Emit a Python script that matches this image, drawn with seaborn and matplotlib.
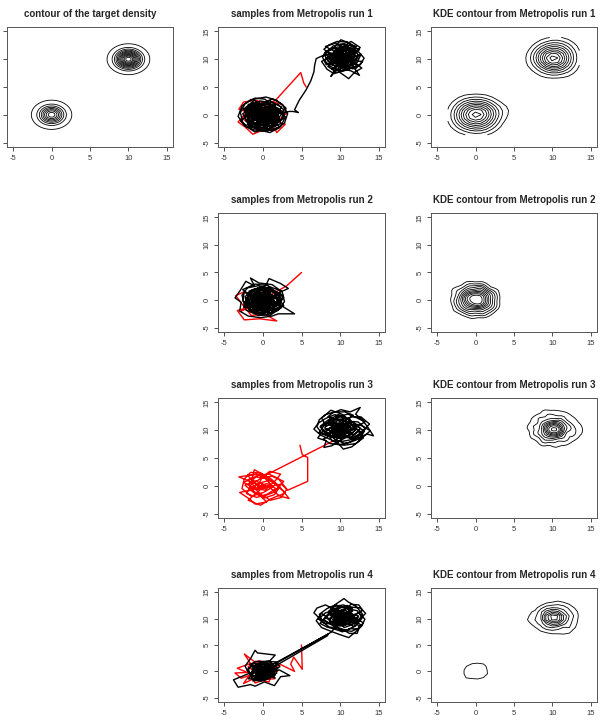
#!/usr/bin/env python3
"""
Metropolis runs on a two-mode target: sample paths and KDE contours
"""
import numpy as np
import matplotlib
matplotlib.use("Agg")
import matplotlib.pyplot as plt
import seaborn as sns

# target density: two gaussian modes
target_means = [(0.0, 0.0), (10.0, 10.0)]
target_weights = [0.4, 0.6]
target_sd = [1.0, 1.0]
target_levels = [0.002, 0.010, 0.018, 0.026, 0.034, 0.042, 0.050, 0.058,
                 0.066, 0.074, 0.082, 0.090]

tick_values = [-5, 0, 5, 10, 15]

# ---- run 1 ----
run1_red = [
    (5.6, 5.0), (5.3, 5.7), (4.9, 7.6), (1.7, 2.7), (0.6, 1.9), (-0.9, 2.6), (-2.5, 2.3), (-3.1, 1.0),
    (-2.1, 0.5), (-3.2, -1.3), (-2.3, -2.2), (-1.3, -3.5), (0.1, -2.7), (1.5, -2.4), (1.8, -3.2),
    (2.9, -1.7), (1.3, -0.9), (2.4, 0.7), (0.9, 0.2), (-0.5, -1.2), (-1.9, -0.4), (-0.2, 1.0),
    (1.1, 2.4), (2.6, 1.8), (3.1, 0.3), (2.0, -1.0), (0.4, -0.3), (-1.4, 1.2), (-2.7, -0.6),
    (-1.6, -1.8), (0.3, -1.6), (0.9, 0.8)]
run1_black_a = [
    (0.9, 0.8), (0.2, -0.4), (-1.1, 0.3), (-0.4, 1.5), (0.8, 0.9), (1.6, -0.3), (0.5, -1.4), (-0.8, -0.9),
    (-1.9, 0.1), (-1.2, 1.4), (0.1, 2.1), (1.3, 1.6), (2.2, 0.4), (1.4, -1.1), (0.2, -2.0), (-1.3, -1.7),
    (-2.4, -0.6), (-2.0, 1.0), (-0.9, 2.3), (0.6, 1.4), (1.9, 1.9), (2.7, 0.9), (2.4, -0.9), (1.1, -2.3),
    (-0.3, -1.1), (-1.6, -0.2), (-0.6, 0.6), (0.7, 0.1), (1.5, 1.0), (0.3, 2.8), (-1.0, 3.0), (-2.3, 2.0),
    (-2.9, 0.4), (-2.6, -1.4), (-1.5, -2.6), (0.0, -3.0), (1.7, -2.6), (2.8, -1.5), (3.2, 0.2), (2.5, 1.9),
    (1.2, 2.9), (-0.2, 1.7), (-1.4, 0.7), (-0.5, -0.5), (0.6, -0.9), (1.8, -0.1), (1.0, 0.6), (-0.2, 0.3),
    (0.3, 0.5), (-0.6, -0.2), (0.7, -0.6), (-0.2, 0.8), (-1.0, 0.4), (0.1, -0.9), (1.0, 0.1), (-0.5, -1.0),
    (0.5, 1.0), (-1.1, -0.5), (0.9, 0.7), (-0.3, -0.4), (0.6, -1.2), (-0.8, 0.9), (1.2, -0.4), (-0.1, 1.2),
    (-1.2, 0.0), (0.4, -0.2), (-0.4, 0.3), (0.8, 0.4), (-0.7, -0.8), (0.2, 0.0), (1.1, 0.9), (-0.9, 1.1),
    (0.0, -0.5), (0.6, 0.6), (-0.5, 0.1), (0.3, -1.1), (-1.0, -1.0), (0.9, -0.2), (0.1, 0.7), (-0.6, 0.6),
    (0.7, -0.9), (-0.2, -1.2), (1.2, 0.3), (-1.1, 0.8), (0.4, 1.1), (-0.3, -0.7), (0.8, -0.5), (-0.4, 0.4),
    (-1.0, -0.4), (-0.3, -1.8), (0.9, -1.6), (2.0, -1.2), (1.3, 0.2), (0.2, 1.1), (-1.2, 2.0), (-2.2, 1.2),
    (-1.7, -0.9), (-0.6, -2.2), (0.8, -2.8), (2.3, -2.1), (2.9, -0.4), (2.0, 0.9), (0.5, 0.4), (-0.8, 1.0),
    (-2.0, -0.2), (-2.9, -1.1), (-2.1, -2.3), (-0.9, -1.4), (0.4, -0.6), (1.4, -1.7), (2.6, -0.7), (3.0, 1.2),
    (1.8, 2.6), (0.4, 3.2), (-1.6, 2.7), (-2.7, 1.6), (-3.2, -0.3), (-2.4, -1.9), (-1.0, -3.1), (0.6, -2.2),
    (1.1, -0.7), (0.0, 0.0), (-1.1, -0.8), (-0.4, 0.9), (1.0, 1.8), (2.1, 1.1), (1.6, -0.8), (0.3, -1.3),
    (-1.4, -0.1), (-0.7, 1.9), (0.5, 2.3), (1.5, 0.5), (0.7, -0.4), (-0.5, -0.3), (-1.8, 0.6), (-1.1, -1.9),
    (0.2, -0.9), (1.2, 0.3),
    (-1.5, 1.6), (-0.3, -0.2), (1.7, 0.6), (0.4, -2.1), (-2.1, -1.0), (-0.7, 0.4), (0.9, 1.5), (2.1, -0.6),
    (0.0, -1.2), (-1.8, 0.9), (-0.4, 2.5), (1.4, 2.1), (2.3, -1.6), (0.5, -2.6), (-1.6, -2.3), (-2.6, 0.2),
    (-1.0, 1.6), (0.6, 0.9), (1.8, -0.9), (0.1, -0.2), (-1.3, -1.2), (-0.2, -2.4), (1.2, -1.9), (2.4, 1.4),
    (0.8, 2.6), (-0.9, 1.1), (-2.2, -0.1), (-1.4, -1.5), (0.4, -1.9), (1.9, -0.2), (1.0, 1.2), (-0.5, 0.8),
    (-1.9, 1.9), (-0.8, -0.7), (0.7, -1.1), (1.5, 0.3), (0.2, 1.6), (-1.1, 2.6), (-2.5, 1.0), (-1.2, -0.5),
    (0.3, 0.3), (1.3, -0.5), (2.2, -2.3), (0.9, -3.2), (-0.6, -2.7), (-2.0, -1.7), (-1.0, 0.0), (0.5, 1.2),
    (1.9, 0.2), (1.1, -1.2), (-0.2, -1.5), (-1.5, -0.4), (-2.4, 0.8), (-1.3, 2.2), (0.0, 1.3), (1.3, 1.3),
    (2.6, 0.6), (1.6, -1.6), (0.2, -2.3), (-1.2, -2.1), (-2.2, -1.1), (-1.1, 0.6), (0.4, 0.7), (1.6, 1.7),
    (0.6, 2.0), (-0.6, 1.3), (-1.7, 0.3), (-0.7, -1.3), (0.8, -0.2), (2.0, -0.4), (1.2, 0.9), (-0.1, 0.6),
    (-1.3, -0.3), (-0.4, -0.8), (0.9, -0.9), (1.7, -2.0), (0.1, -2.8), (-1.6, -1.3), (-0.3, 0.1), (1.4, 0.8),
    (2.5, 0.2), (3.4, 0.6), (3.9, 0.6)]
run1_jump = [
    (4.6, 0.4), (4.1, 0.9), (4.7, 2.6), (5.6, 4.5), (6.2, 6.1), (6.6, 7.7), (6.7, 8.9), (6.9, 10.1), (7.5, 10.5)]
run1_black_b = [
    (8.4, 10.9), (9.3, 10.2), (8.6, 9.1), (9.8, 8.6), (10.7, 9.5), (10.1, 10.8), (9.0, 11.6), (8.1, 12.3),
    (9.4, 12.9), (10.6, 12.1), (11.5, 11.0), (12.3, 10.2), (11.4, 9.1), (10.5, 8.0), (9.2, 7.4), (8.3, 8.2),
    (7.6, 9.6), (8.5, 10.3), (9.7, 9.7), (10.9, 10.4), (12.0, 11.8), (11.2, 12.9), (10.1, 13.5), (9.2, 12.1),
    (8.0, 11.2), (8.9, 9.6), (10.2, 9.2), (11.6, 8.3), (12.6, 9.0), (13.1, 10.2), (12.4, 11.3), (11.0, 11.7),
    (9.9, 11.2), (9.1, 10.6), (9.8, 9.9), (10.6, 10.1), (11.3, 9.7), (10.4, 8.9), (9.5, 8.1), (8.8, 6.9),
    (10.3, 10.5), (9.6, 9.8), (10.7, 9.6), (9.8, 10.9), (9.1, 10.2), (10.1, 9.2), (11.0, 10.2), (10.4, 11.1),
    (9.5, 10.6), (10.9, 9.0), (9.3, 9.3), (10.2, 10.0), (11.1, 10.9), (9.9, 11.3), (9.0, 10.8), (10.6, 10.3),
    (9.7, 9.4), (10.5, 9.1), (10.0, 10.4), (9.4, 10.0), (10.8, 10.6), (10.1, 11.0), (9.2, 9.7), (10.4, 9.5),
    (11.2, 9.9), (10.3, 10.8), (9.6, 10.3), (10.7, 9.9), (9.9, 9.6), (10.2, 10.7),
    (10.0, 7.6), (11.1, 6.5), (11.9, 7.7), (12.8, 8.4), (11.7, 9.6), (10.3, 10.4), (9.4, 11.3), (10.5, 11.6),
    (11.8, 12.4), (10.9, 13.1), (9.6, 13.2), (8.6, 12.6), (7.9, 11.8), (8.7, 10.9), (9.6, 10.4), (10.8, 9.0),
    (11.9, 10.5), (12.7, 10.9), (12.2, 9.4), (11.0, 8.6), (9.7, 8.8), (8.9, 9.9), (9.3, 11.0), (10.4, 11.0),
    (11.4, 10.3), (10.7, 9.4), (9.9, 10.3), (9.0, 9.4), (8.2, 9.0), (7.7, 10.4), (8.4, 11.6), (9.7, 12.2),
    (11.1, 12.0), (12.0, 11.0), (11.5, 10.2), (10.2, 9.7), (9.5, 9.1), (10.3, 8.3), (11.4, 7.9), (12.5, 7.1),
    (11.6, 8.9), (10.6, 10.6), (9.8, 11.7), (9.0, 10.1), (10.0, 9.5), (11.0, 10.9), (12.1, 12.3), (10.8, 12.6),
    (9.9, 12.7), (10.2, 11.4),
    (9.1, 9.0), (10.8, 11.2), (12.1, 10.0), (10.4, 9.0), (8.6, 10.0), (9.5, 11.8), (11.3, 12.5), (12.5, 11.7),
    (11.2, 10.6), (9.9, 9.2), (8.9, 8.2), (10.1, 7.9), (11.7, 8.7), (10.9, 9.8), (9.7, 10.8), (8.3, 11.3),
    (9.1, 12.4), (10.6, 12.8), (11.6, 11.5), (10.5, 10.3), (9.3, 9.8), (8.4, 8.7), (9.6, 7.6), (11.0, 8.1),
    (12.2, 8.9), (11.1, 9.6), (10.0, 10.6), (9.0, 11.0), (8.2, 10.2), (8.9, 9.2), (10.3, 9.6), (11.5, 10.8),
    (12.6, 12.1), (11.4, 13.2), (10.3, 12.2), (9.4, 11.5), (8.7, 10.6), (9.8, 10.0), (10.9, 10.7), (11.9, 9.7),
    (12.9, 9.6), (12.0, 8.3), (10.7, 8.4), (9.6, 9.3), (8.5, 9.5), (7.9, 10.9), (9.0, 11.9), (10.1, 11.8),
    (11.2, 11.1), (10.6, 9.9), (9.5, 10.6), (10.4, 11.9), (11.8, 11.9), (12.4, 10.6), (11.3, 9.0), (10.0, 8.9),
    (9.2, 10.3), (10.2, 10.2), (11.4, 10.0), (10.8, 8.9), (9.8, 8.0), (8.6, 8.8), (8.0, 9.8), (8.9, 10.8),
    (10.0, 11.4), (11.0, 11.6), (11.9, 11.3), (11.1, 10.2), (10.3, 9.1), (9.4, 9.5)]

# ---- run 2 ----
run2_red = [
    (5.0, 5.0), (3.1, 2.6), (1.6, 1.4), (0.4, 0.6), (-1.2, -0.4), (-2.8, -2.0), (-1.8, -1.3), (-3.3, -1.9),
    (-2.4, -3.6), (-0.4, -3.4), (1.8, -3.8), (0.2, -2.5), (-1.5, -2.8), (-2.7, -0.7), (-3.5, 0.8),
    (-2.6, 1.4), (-1.0, 0.9), (0.5, -0.8), (-0.9, -1.9), (-2.0, 0.3), (-0.5, 1.6), (1.0, 0.7), (0.0, -0.6)]
run2_black = [
    (0.0, -0.6), (1.1, 0.4), (0.3, 1.3), (-0.9, 0.7), (-1.6, -0.5), (-0.7, -1.5), (0.6, -1.2), (1.7, -0.6),
    (2.3, 0.8), (1.3, 1.9), (-0.1, 2.4), (-1.4, 1.8), (-2.3, 0.6), (-2.0, -1.1), (-1.0, -2.3), (0.5, -2.6),
    (1.9, -1.9), (2.8, -0.3), (2.5, 1.5), (1.2, 2.8), (-0.5, 3.1), (-1.6, 4.0), (-1.1, 2.6), (-2.2, 3.4),
    (-2.9, 1.8), (-3.6, 0.4), (-2.8, -0.4), (-3.0, -2.0), (-1.9, -2.9), (-0.3, -3.2), (1.2, -2.9), (2.0, -2.5),
    (4.1, -2.5), (2.6, -1.2), (1.4, -0.3), (0.2, 0.2), (-1.0, -0.2), (-0.4, 0.9), (0.9, 1.1), (1.8, 0.2),
    (0.2, 0.6), (-0.5, -0.3), (0.8, -0.4), (-0.3, 0.9), (-1.0, 0.2), (0.3, -1.0), (1.0, 0.4), (-0.6, -1.1),
    (0.6, 1.1), (-1.2, -0.3), (0.9, -0.9), (-0.2, -0.1), (0.5, 0.2), (-0.8, 0.7), (1.1, -0.1), (0.0, 1.0),
    (-1.0, -0.8), (0.4, -0.6), (-0.4, 0.5), (0.7, 0.8), (-0.6, 0.0), (0.1, -0.3), (0.9, 0.1), (-0.3, -0.9),
    (-0.9, 0.9), (0.5, -1.1), (0.2, 0.3), (-0.7, -0.5), (1.2, 0.7), (-0.1, 0.6), (0.6, -0.2), (-0.5, 1.1),
    (-1.1, 0.4), (0.3, -0.7), (0.8, 1.2), (-0.2, -0.6), (1.0, -0.6), (-0.8, -0.1), (0.0, 0.2), (0.4, 0.9),
    (0.8, -0.7), (-0.5, -0.9), (-1.5, 0.4), (-0.6, 1.7), (0.7, 2.0), (2.0, 1.3), (3.3, 2.1), (2.3, 3.0),
    (0.8, 3.9), (0.4, 2.7), (-0.8, 1.3), (-1.9, 0.0), (-1.2, -1.2), (0.1, -1.7), (1.3, -1.3), (2.2, -0.1),
    (1.5, 0.9), (0.4, 0.4), (-0.6, 0.0), (-1.3, 1.0), (-2.4, 1.5), (-2.6, -0.1), (-1.7, -1.9), (-0.2, -2.2),
    (0.9, -1.9), (1.6, -1.0), (0.5, -0.2), (-0.3, 0.7), (0.6, 1.6), (1.7, 1.6), (2.7, 0.5), (2.1, -0.8),
    (1.0, -0.4), (-0.1, -0.4), (-1.1, 0.5), (-1.8, 1.6), (-0.9, 2.1), (0.2, 1.8), (1.3, 0.7), (0.6, -0.6),
    (-0.6, -1.1), (-1.4, -0.7), (-2.1, -0.4), (-1.4, 0.2), (-0.2, 1.1), (1.0, 0.3), (1.9, -1.4), (0.9, -2.4),
    (-0.5, -1.8), (-1.6, -1.2), (-2.5, -1.3), (-1.9, 0.8), (-0.8, 0.3), (0.3, -0.9), (1.4, -0.8), (2.4, 0.2),
    (1.6, 1.3), (0.5, 2.2), (-0.7, 2.2), (-1.2, 0.1), (-0.3, -0.3), (0.7, 0.6), (1.5, -0.2), (0.3, -1.4),
    (-0.8, -0.5), (-0.1, 0.5), (0.9, 0.0), (0.0, -1.0), (-0.9, 1.2), (0.4, 1.0),
    (-0.8, -1.6), (1.2, -1.7), (2.1, 0.6), (0.9, 2.1), (-1.1, 1.9), (-2.2, 0.2), (-1.3, -1.6), (0.4, -2.0),
    (1.8, -0.7), (0.8, 0.8), (-0.4, 1.4), (-1.7, 0.9), (-1.0, -0.8), (0.6, -1.5), (2.0, -1.7), (2.6, 0.9),
    (1.0, 1.8), (-0.6, 2.6), (-2.0, 2.2), (-2.7, 0.9), (-2.2, -1.8), (-0.6, -2.8), (1.0, -2.7), (2.4, -1.4),
    (1.2, 0.0), (-0.2, 0.3), (-1.5, -0.2), (-0.3, -1.3), (1.1, -0.9), (0.2, 0.9), (-1.2, 1.3), (-0.1, 2.0),
    (1.4, 1.4), (2.2, -0.5), (0.7, -2.2), (-0.9, -2.5), (-2.4, -0.8), (-1.6, 1.1), (-0.2, 0.0), (1.5, 0.5),
    (0.5, 1.7), (-0.9, 0.6), (-1.9, -0.9), (-0.7, -1.9), (0.8, -1.1), (1.8, 1.0), (0.7, 2.6), (-1.0, 2.9),
    (-2.6, 1.9), (-1.4, 0.3), (0.1, -0.8), (1.3, -2.1), (2.7, -1.0), (1.9, 0.4), (0.3, 1.3), (-1.3, 1.7),
    (-2.3, -0.3), (-1.1, -1.4), (0.4, -1.7), (1.6, -0.4), (0.5, 0.5), (-0.7, 1.0), (-1.8, -1.6), (-0.3, -2.6),
    (1.5, -1.5), (2.3, 1.7), (0.9, 2.4), (-0.4, 1.8), (-1.4, -0.9), (0.2, -0.5), (1.2, 0.9), (-0.2, 1.1),
    (-1.6, 0.5), (-0.9, -0.2), (0.7, -0.4), (1.0, 1.5), (-0.5, -0.7), (0.6, 0.2), (-1.2, -2.0), (0.3, 2.3)]

# ---- run 3 ----
run3_red = [
    (4.8, 7.3), (5.1, 5.6), (5.8, 5.1), (5.8, 0.8), (3.2, -0.8), (2.4, 0.3), (-3.0, -1.2), (-1.6, -2.5),
    (-1.0, -3.3), (0.5, -2.9), (-0.6, -1.5), (-1.7, -0.6), (-0.4, 0.5), (0.9, -0.3), (2.1, -1.8), (3.4, -2.3),
    (2.6, -0.9), (1.3, 0.6), (0.2, 1.9), (-1.1, 2.9), (-1.4, 1.3), (-2.5, 0.6), (-1.2, -0.4), (0.3, -0.8),
    (1.6, 0.9), (2.3, 2.1), (0.9, 2.6), (-0.4, 1.2), (-1.5, 0.2), (-2.1, -1.4), (-0.8, -2.1), (0.6, -1.5),
    (1.7, -0.5), (0.5, 0.4), (-0.7, -0.2), (-0.1, 1.5), (1.2, 1.7), (2.7, 0.8), (1.4, -1.2), (0.0, -1.9),
    (-1.3, -1.1), (-2.3, 0.1), (-1.0, 0.9), (0.3, 0.1), (-0.5, -0.9), (-1.9, -2.6), (-0.3, -3.5), (1.1, -2.3),
    (2.9, -1.3), (1.9, 0.2), (0.6, 1.1), (-0.8, 2.1), (-2.0, 1.9),
    (-0.2, -0.6), (1.0, 0.2), (0.4, 1.3), (-0.9, 1.6), (-1.8, 0.4), (-1.1, -1.3), (0.2, -2.2), (1.5, -1.6),
    (2.2, -0.2), (1.1, 1.2), (-0.3, 2.3), (-1.6, 2.4), (-2.4, 1.2), (-2.7, -0.5), (-1.5, -1.9), (0.1, -1.2),
    (1.3, -0.2), (0.6, 0.9), (-0.6, 0.4), (-1.3, -0.2), (-0.2, -1.6), (1.0, -2.6), (2.4, -2.1), (3.1, -0.6),
    (2.0, 1.3), (0.8, 2.1), (-0.5, 1.9), (-1.9, 1.1), (-0.9, -0.4), (0.4, -0.4),
    (-3.1, 1.6), (-1.2, 2.0), (0.5, 2.0), (9.0, 8.0)]
run3_black = [
    (9.0, 8.0), (10.2, 8.9), (9.4, 10.1), (8.3, 9.4), (7.4, 10.6), (8.6, 11.5), (9.8, 11.1), (10.9, 10.2),
    (11.8, 9.1), (12.6, 10.3), (11.7, 11.4), (10.6, 12.3), (9.3, 12.8), (8.1, 12.1), (7.2, 11.3), (6.6, 10.2),
    (7.5, 9.1), (8.8, 8.3), (9.9, 7.4), (11.2, 7.8), (12.3, 8.6), (13.5, 9.3), (14.3, 9.0), (13.6, 10.5),
    (12.9, 11.8), (12.0, 12.9), (12.6, 14.1), (11.3, 13.3), (10.1, 13.7), (9.0, 13.1), (8.4, 12.4), (9.6, 11.8),
    (10.7, 11.1), (11.5, 10.3), (10.5, 9.6), (9.3, 9.2), (8.4, 10.1), (9.1, 10.9), (10.3, 10.5), (11.1, 9.4),
    (10.2, 10.4), (9.5, 9.7), (10.8, 9.8), (9.8, 10.8), (9.2, 10.1), (10.3, 9.3), (11.0, 10.3), (10.1, 11.1),
    (9.4, 10.6), (10.7, 9.1), (9.6, 9.2), (10.4, 10.0), (11.1, 10.8), (9.9, 11.3), (9.1, 10.7), (10.6, 10.6),
    (9.7, 9.5), (10.5, 9.4), (10.0, 10.2), (9.3, 9.9), (10.9, 10.5), (10.2, 11.0), (9.4, 9.4), (10.5, 9.8),
    (11.2, 10.1), (10.1, 10.7), (9.7, 10.3), (10.8, 10.0), (9.9, 9.6), (10.3, 10.6), (9.5, 10.1), (10.6, 11.2),
    (11.0, 9.4), (9.2, 9.2), (10.0, 9.8), (9.8, 10.5), (10.7, 10.4), (9.6, 11.0), (10.4, 9.6), (10.1, 10.1),
    (10.1, 8.2), (8.9, 7.2), (7.9, 6.9), (8.2, 8.1), (7.1, 8.6), (7.8, 9.9), (8.9, 10.5), (10.0, 9.9),
    (11.0, 10.8), (12.1, 10.9), (13.1, 9.8), (12.4, 8.0), (11.5, 7.0), (10.4, 6.6), (9.6, 7.9), (10.8, 8.7),
    (11.9, 9.9), (11.2, 11.8), (10.0, 12.4), (8.9, 11.9), (8.0, 11.0), (7.3, 9.6), (8.5, 9.0), (9.7, 8.7),
    (10.6, 9.2), (11.5, 8.4), (12.5, 9.4), (13.8, 11.1), (12.7, 12.4), (11.4, 12.4), (10.4, 11.5), (9.5, 10.6),
    (8.7, 9.7), (9.9, 9.4), (10.9, 9.9), (10.2, 10.9), (9.2, 11.4), (8.2, 10.7), (7.6, 12.2), (8.8, 13.6),
    (10.2, 12.9), (11.0, 12.0), (11.8, 11.2), (12.8, 10.8), (13.9, 9.9), (12.9, 8.7), (11.6, 8.0), (10.6, 7.6),
    (9.3, 8.4), (8.6, 9.3), (9.5, 10.0), (10.5, 10.1), (11.3, 10.6), (10.8, 11.5), (9.8, 11.9), (9.0, 11.1),
    (9.7, 10.4), (10.6, 9.8), (11.4, 9.5), (10.9, 8.8), (9.9, 8.5), (9.0, 9.0), (9.3, 10.3), (10.1, 11.1),
    (11.1, 11.3), (12.0, 10.6), (11.2, 9.8), (10.3, 9.4), (9.6, 9.7), (10.4, 10.6),
    (10.7, 10.4), (9.1, 9.7), (8.0, 10.4), (8.7, 12.0), (10.3, 12.0), (11.6, 11.0), (12.4, 9.9), (11.4, 8.8),
    (10.0, 8.8), (8.8, 9.1), (7.8, 8.4), (8.7, 7.6), (10.5, 7.3), (12.0, 7.6), (13.0, 8.6), (12.2, 10.1),
    (11.0, 10.5), (9.7, 10.2), (8.5, 11.1), (9.6, 12.4), (11.0, 12.9), (12.2, 12.2), (13.2, 11.5), (12.4, 10.8),
    (11.3, 9.8), (10.2, 9.5), (9.2, 8.6), (8.0, 9.4), (7.5, 10.8), (8.4, 11.8), (9.8, 12.8), (11.3, 12.0),
    (10.8, 10.9), (9.6, 11.3), (8.9, 10.2), (10.0, 9.0), (11.2, 8.6), (12.6, 9.1), (13.3, 10.3), (12.3, 11.5),
    (11.1, 11.6), (10.1, 10.6), (9.0, 10.6), (8.2, 9.8), (9.0, 8.0), (10.3, 8.0), (11.8, 8.4), (12.9, 9.5),
    (11.9, 10.4), (10.9, 9.6), (9.8, 9.6), (8.8, 10.9), (9.4, 12.0), (10.6, 11.7), (11.7, 12.7), (10.6, 13.3),
    (9.3, 13.3), (8.1, 12.8), (7.3, 11.9), (7.0, 10.6), (7.7, 9.3), (8.9, 8.8), (10.2, 8.6), (11.4, 9.2),
    (12.1, 10.3), (11.4, 11.2), (10.4, 11.2), (9.4, 10.9), (9.9, 10.0), (10.8, 10.1)]

# ---- run 4 ----
run4_red = [
    (5.0, 5.0), (5.1, 0.4), (4.0, 2.7), (3.6, 1.4), (4.1, 0.0), (2.3, 1.3), (1.0, 0.4), (-0.6, 1.3),
    (-2.4, 3.3), (-1.6, 1.5), (-3.3, 0.6), (-2.0, -0.2), (-3.6, -0.3), (-2.8, -1.3), (-1.6, -0.7),
    (-1.0, -2.2), (0.4, -1.5), (1.5, -1.4), (0.7, 0.2), (-0.8, -0.4), (-1.9, 0.9), (-0.5, 2.0), (1.1, 1.3),
    (1.9, 0.0), (0.2, -0.6), (-1.3, 0.2), (-2.5, -2.3), (-1.2, -1.4), (0.8, -2.0), (1.4, 0.9), (0.1, 0.8),
    (-0.9, -1.0), (0.5, -0.3)]
run4_black_a = [
    (0.5, -0.3), (-0.4, 0.6), (0.6, 1.2), (1.3, 0.2), (0.4, -1.0), (-0.8, -0.6), (-1.4, 0.5), (-0.6, 1.6),
    (0.9, 2.0), (1.6, 3.1), (-0.7, 3.5), (-1.0, 4.0), (-1.6, 2.4), (-2.3, 1.0), (-1.8, -0.4), (-3.8, -1.6),
    (-3.2, -3.0), (-1.6, -2.5), (-1.0, -2.8), (0.2, -2.0), (1.5, -2.7), (2.3, -1.0), (3.5, -0.8), (2.1, 0.3),
    (1.0, -0.4), (-0.2, -0.1), (-1.1, 1.0), (0.2, 1.5), (1.4, 1.1), (1.8, -0.3), (0.8, -1.4), (-0.5, -1.3),
    (-1.5, -0.8), (-0.8, 0.2), (0.3, 0.5), (1.1, -0.7), (0.1, -0.6), (-1.0, -1.5), (-1.9, -1.4), (-1.2, -0.2),
    (-0.1, 0.9), (0.9, 0.6), (0.4, -0.2), (-0.6, 0.3), (-1.7, 1.3), (-0.9, 1.9), (0.5, 1.9), (1.7, 1.8),
    (2.2, 0.9), (1.2, -0.1), (0.0, -1.3), (-1.1, -0.9), (-0.3, 0.2), (0.7, -0.7), (1.6, -1.3), (0.6, 0.3),
    (-0.4, 1.1), (-1.4, 0.0), (-0.6, -0.5), (0.3, 0.0), (1.0, 1.0), (-0.2, 1.4), (-1.2, 1.5), (-2.0, 0.2),
    (-1.3, -1.0), (0.1, -1.0), (1.3, -0.6), (0.8, 0.8), (-0.3, -0.6), (-0.9, 0.5),
    (0.9, -0.9), (-0.5, -1.6), (-1.6, -0.4), (-0.9, 0.9), (0.5, 1.4), (1.5, 0.4), (0.8, -0.3), (-0.4, -0.9),
    (-1.2, 0.3), (-0.2, 1.6), (1.1, 1.6), (1.9, 0.6), (1.0, -1.1), (-0.3, -1.9), (-1.5, -1.2), (-1.9, 0.6),
    (-0.8, 1.3), (0.4, 0.7), (1.2, -0.3), (0.2, -1.1), (-0.9, -0.1), (0.1, 0.4), (1.0, 0.4), (-0.1, -0.4),
    (-1.0, -0.8), (-0.5, 0.7), (0.7, 1.0), (1.6, -0.7), (0.4, -1.6), (-1.3, -1.8),
    (0.4, 1.1), (1.5, 1.5)]
run4_jump = [
    (8.5, 7.1), (8.3, 6.7), (1.7, 1.1), (0.6, 0.6), (-0.5, -0.1), (0.5, -0.8), (1.3, 0.4), (1.8, 1.6)]
run4_black_b = [
    (8.8, 7.4), (9.5, 8.5), (10.6, 9.4), (9.7, 10.6), (8.5, 10.0), (7.6, 11.0), (6.9, 9.6), (7.6, 8.3),
    (8.8, 7.6), (9.9, 7.0), (11.1, 6.4), (12.0, 7.5), (12.8, 8.6), (13.2, 9.9), (12.4, 11.1), (11.3, 10.5),
    (10.4, 11.4), (9.2, 11.8), (8.1, 12.6), (7.0, 12.0), (6.6, 11.1), (7.3, 10.1), (8.4, 9.2), (9.4, 9.6),
    (10.1, 10.3), (9.6, 9.8), (10.7, 9.7), (9.9, 10.8), (9.2, 10.2), (10.2, 9.3), (11.0, 10.1), (10.4, 11.0),
    (9.5, 10.5), (10.8, 9.2), (9.4, 9.4), (10.3, 9.9), (11.1, 10.7), (9.8, 11.2), (9.1, 10.8), (10.6, 10.4),
    (9.7, 9.3), (10.5, 9.0), (10.0, 10.0), (9.3, 9.9), (10.9, 10.6), (10.2, 11.1), (9.3, 9.6), (10.4, 9.5),
    (11.2, 10.0), (10.3, 10.7), (9.6, 10.3), (10.8, 10.0), (9.9, 9.6), (10.2, 10.6),
    (10.3, 10.3), (11.2, 9.6), (12.1, 9.1), (12.9, 10.8), (12.1, 12.3), (11.0, 13.2), (10.5, 13.8), (9.6, 12.9),
    (8.8, 12.0), (9.5, 11.0), (10.6, 10.7), (11.6, 11.6), (10.9, 12.4), (9.9, 12.1), (9.0, 11.3), (8.2, 10.5),
    (7.4, 9.1), (8.3, 8.4), (9.3, 8.0), (10.3, 7.5), (11.3, 8.1), (12.3, 8.0), (13.0, 9.2), (11.8, 10.3),
    (10.8, 9.9), (9.9, 9.2), (9.1, 10.2), (10.1, 10.9), (11.0, 11.3), (11.9, 10.6), (11.3, 9.3), (10.4, 8.6),
    (9.4, 8.9), (8.6, 9.6), (9.2, 10.7), (10.2, 11.7), (11.4, 12.2), (12.6, 12.0), (13.3, 11.0), (12.5, 9.8),
    (11.5, 8.8), (10.5, 8.3), (9.7, 9.9), (10.6, 10.2), (11.7, 9.7), (12.6, 8.9), (12.2, 7.2), (11.2, 7.2),
    (10.1, 8.1), (9.0, 8.7), (7.9, 9.8), (8.7, 11.0), (9.8, 10.5), (10.8, 10.9), (11.6, 12.0), (10.4, 12.6),
    (9.3, 12.3), (8.5, 11.4), (9.4, 10.0), (10.5, 9.5), (11.4, 10.6), (10.7, 11.6), (9.6, 11.4), (10.0, 10.2),
    (10.9, 9.1), (11.8, 8.5), (12.3, 10.2), (11.1, 10.0), (10.2, 9.8), (9.5, 10.5), (10.3, 11.1), (11.0, 10.4),
    (10.0, 9.6), (11.3, 10.8), (12.4, 10.5), (11.6, 9.2), (10.3, 8.8), (9.1, 9.3), (8.1, 10.2), (8.8, 11.6),
    (10.0, 12.3), (11.2, 11.8), (12.2, 11.5), (12.9, 10.2), (12.0, 8.6), (10.8, 7.8), (9.6, 8.2), (8.6, 8.4),
    (7.7, 9.4), (7.3, 10.8), (8.3, 11.9), (9.4, 12.6), (10.7, 12.1), (11.5, 11.0), (10.6, 10.0), (9.5, 9.9),
    (8.7, 10.6), (9.8, 11.3), (10.9, 11.0), (11.9, 10.0), (11.0, 8.9), (9.9, 8.6), (8.9, 9.0), (8.0, 9.1),
    (7.2, 9.9), (8.1, 11.1), (9.2, 11.5), (10.4, 11.5), (11.4, 12.7), (12.4, 12.6), (12.9, 11.6), (12.2, 10.9),
    (11.1, 9.9), (10.2, 9.2), (9.2, 8.4), (10.2, 7.8), (11.5, 7.6), (12.5, 8.3), (12.0, 9.5), (10.9, 9.4),
    (9.8, 10.1), (9.0, 10.9), (9.8, 11.9), (10.9, 12.5), (11.6, 11.4), (10.7, 10.6), (9.7, 10.7), (9.0, 9.8),
    (10.0, 9.0), (11.0, 9.9), (10.3, 10.8), (9.4, 10.3)]
# share of run-4 time spent near the origin relative to the drawn points
run4_origin_weight = 0.35

# (burn-in path, kept path pieces, KDE weight per piece, kernel sd, contour count)
runs = [
    (run1_red, [run1_black_a, run1_jump, run1_black_b], [1.0, 1.0, 1.0], 1.0, 12),
    (run2_red, [run2_black], [1.0], 0.5, 10),
    (run3_red, [run3_black], [1.0], 0.45, 10),
    (run4_red, [run4_black_a, run4_jump, run4_black_b], [run4_origin_weight, 0.0, 1.0], 0.45, 10),
]

W, H = 606, 728
col_px = [(7, 173), (218, 385), (431, 597)]
row_px = [(27, 147), (213, 332), (398, 518), (588, 702)]

sns.set_theme(style="ticks")
plt.rcParams["font.family"] = ["Liberation Sans", "DejaVu Sans"]

fig = plt.figure(figsize=(W / 100, H / 100), dpi=100)


def make_axes(col, row):
    x0, x1 = col_px[col]
    y0, y1 = row_px[row]
    return fig.add_axes([x0 / W, 1 - y1 / H, (x1 - x0) / W, (y1 - y0) / H])


def r_style(ax, title, ylabels=True):
    ax.set_xlim(-5.8, 15.8)
    ax.set_ylim(-5.8, 15.8)
    ax.set_xticks(tick_values)
    ax.set_yticks(tick_values)
    ax.set_xticklabels([str(t) for t in tick_values])
    if ylabels:
        ax.set_yticklabels([str(t) for t in tick_values], rotation=90, va="center")
    else:
        ax.set_yticklabels([])
    ax.tick_params(direction="out", length=3, width=0.6, labelsize=5.5, pad=2.5,
                   colors="#333333")
    for sp in ax.spines.values():
        sp.set_linewidth(0.7)
        sp.set_color("#555555")
    ax.set_xlabel("")
    ax.set_ylabel("")
    ax.set_title(title, fontsize=7, fontweight="bold", pad=7)


def kde_contour(ax, pts, wts, h, nlev):
    # isotropic gaussian kernel on a coarse grid spanning the data range
    gx = np.linspace(pts[:, 0].min() - 0.4, pts[:, 0].max() + 0.4, 25)
    gy = np.linspace(pts[:, 1].min() - 0.4, pts[:, 1].max() + 0.4, 25)
    GX, GY = np.meshgrid(gx, gy)
    z = np.zeros_like(GX)
    for (px, py), w in zip(pts, wts):
        z += w * np.exp(-((GX - px) ** 2 + (GY - py) ** 2) / (2 * h ** 2))
    z /= wts.sum() * 2 * np.pi * h ** 2
    ax.contour(GX, GY, z, levels=nlev, colors="black", linewidths=0.6)


# target density contour (tick labels fall outside the left edge)
ax = make_axes(0, 0)
gx = np.linspace(-5.8, 15.8, 400)
GX, GY = np.meshgrid(gx, gx)
dens = np.zeros_like(GX)
for (mx, my), w, s in zip(target_means, target_weights, target_sd):
    dens += w * np.exp(-((GX - mx) ** 2 + (GY - my) ** 2) / (2 * s ** 2)) / (2 * np.pi * s ** 2)
ax.contour(GX, GY, dens, levels=target_levels, colors="black", linewidths=0.6)
r_style(ax, "contour of the target density", ylabels=False)

for i, (red, black_parts, weights, h, nlev) in enumerate(runs):
    red = np.array(red)
    black = np.vstack([np.array(p) for p in black_parts])
    wts = np.concatenate([np.full(len(p), w) for p, w in zip(black_parts, weights)])

    ax = make_axes(1, i)
    sns.lineplot(x=red[:, 0], y=red[:, 1], sort=False, estimator=None,
                 color="red", lw=1.0, ax=ax)
    sns.lineplot(x=black[:, 0], y=black[:, 1], sort=False, estimator=None,
                 color="black", lw=1.0, ax=ax)
    r_style(ax, f"samples from Metropolis run {i + 1}")

    ax = make_axes(2, i)
    keep = wts > 0
    kde_contour(ax, black[keep], wts[keep], h, nlev)
    r_style(ax, f"KDE contour from Metropolis run {i + 1}")

fig.savefig("out.png", dpi=100)
